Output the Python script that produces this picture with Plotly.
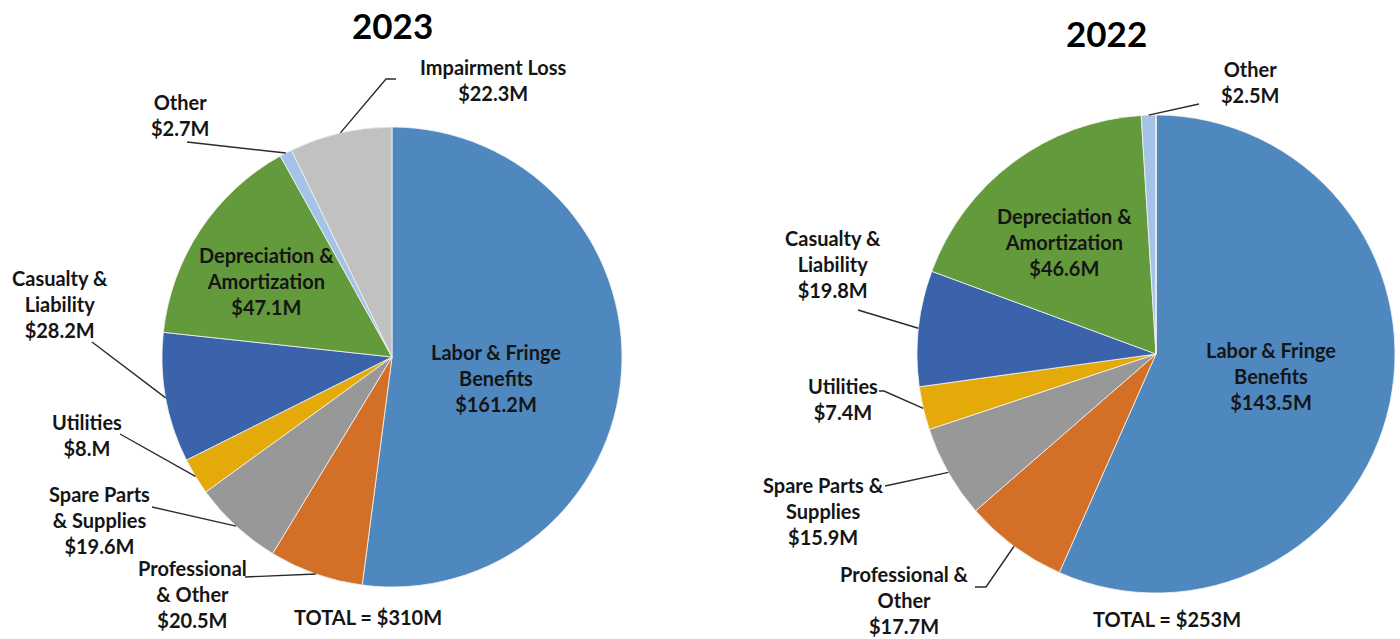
import math
import plotly.graph_objects as go

W, H = 1400, 639

# ---- data ----
categories = ["Labor & Fringe Benefits", "Professional & Other", "Spare Parts & Supplies",
              "Utilities", "Casualty & Liability", "Depreciation & Amortization",
              "Other", "Impairment Loss"]
values_2023 = [161.2, 20.5, 19.6, 8.0, 28.2, 47.1, 2.7, 22.3]
values_2022 = [143.5, 17.7, 15.9, 7.4, 19.8, 46.6, 2.5, 0.0]
labels_2023 = ["Labor & Fringe<br>Benefits<br>$161.2M", "Professional<br>& Other<br>$20.5M",
               "Spare Parts<br>& Supplies<br>$19.6M", "Utilities<br>$8.M",
               "Casualty &<br>Liability<br>$28.2M", "Depreciation &<br>Amortization<br>$47.1M",
               "Other<br>$2.7M", "Impairment Loss<br>$22.3M"]
labels_2022 = ["Labor & Fringe<br>Benefits<br>$143.5M", "Professional &<br>Other<br>$17.7M",
               "Spare Parts &<br>Supplies<br>$15.9M", "Utilities<br>$7.4M",
               "Casualty &<br>Liability<br>$19.8M", "Depreciation &<br>Amortization<br>$46.6M",
               "Other<br>$2.5M", None]
totals = {"2023": "TOTAL = $310M", "2022": "TOTAL = $253M"}

colors = ["#4F88BE", "#D46F28", "#989898", "#E3AA0A", "#3B63AC", "#639A3C", "#A5C3E6", "#C1C1C1"]

# ---- layout (pixel) ----
pies = {
    "2023": dict(cx=392, cy=357, r=230, vals=values_2023, labs=labels_2023,
                 title=(392, 25), total=(368, 617),
                 lab_pos=[(496, 378), (192, 594), (99, 520), (87, 435), (60, 304), (266, 281), (180, 115), (493, 80)],
                 leader=[None, [(245, 577)], [(152, 507)], [(120, 434)], [(92, 342)], None, [(187, 142)], [(396, 79), (386, 79)]]),
    "2022": dict(cx=1156, cy=354, r=239, vals=values_2022, labs=labels_2022,
                 title=(1106, 33), total=(1167, 619),
                 lab_pos=[(1271, 376), (904, 600), (823, 511), (843, 399), (833, 264), (1064, 242), (1250, 82), None],
                 leader=[None, [(975, 587), (986, 587)], [(885, 486)], [(879, 391), (884, 391)], [(858, 310)], None, [(1199, 104)], None]),
}

FONT = "Lato, 'Open Sans', sans-serif"
TXT = "#151515"

def px(x):
    return x / W

def py(y):
    return 1 - y / H

fig = go.Figure()
annotations = []
shapes = []

for year, p in pies.items():
    cx, cy, r = p["cx"], p["cy"], p["r"]
    vals = p["vals"]
    fig.add_trace(go.Pie(
        labels=categories, values=vals, sort=False, direction="clockwise", rotation=0,
        marker=dict(colors=colors, line=dict(color="#F4F4F4", width=0.8)),
        textinfo="none", hoverinfo="label+value", showlegend=False,
        domain=dict(x=[px(cx - r), px(cx + r)], y=[py(cy + r), py(cy - r)]),
    ))
    total = sum(vals)
    cum = 0.0
    for i, v in enumerate(vals):
        mid = (cum + v / 2) / total * 2 * math.pi
        cum += v
        if p["labs"][i] is None or v == 0:
            continue
        lx, ly = p["lab_pos"][i]
        annotations.append(dict(x=px(lx), y=py(ly), xref="paper", yref="paper",
                                text="<b>%s</b>" % p["labs"][i], showarrow=False,
                                xanchor="center", yanchor="middle",
                                font=dict(family=FONT, size=20, color=TXT)))
        if p["leader"][i]:
            rimx = cx + r * math.sin(mid)
            rimy = cy - r * math.cos(mid)
            pts = p["leader"][i] + [(rimx, rimy)]
            path = "M " + " L ".join("%.5f %.5f" % (px(a), py(b)) for a, b in pts)
            shapes.append(dict(type="path", path=path, xref="paper", yref="paper",
                               line=dict(color="#2B2B2B", width=1.4)))
    tx, ty = p["title"]
    annotations.append(dict(x=px(tx), y=py(ty), xref="paper", yref="paper", text="<b>%s</b>" % year,
                            showarrow=False, xanchor="center", yanchor="middle",
                            font=dict(family=FONT, size=35, color="#000000")))
    ox, oy = p["total"]
    annotations.append(dict(x=px(ox), y=py(oy), xref="paper", yref="paper", text="<b>%s</b>" % totals[year],
                            showarrow=False, xanchor="center", yanchor="middle",
                            font=dict(family=FONT, size=20, color=TXT)))

fig.update_layout(width=W, height=H, margin=dict(l=0, r=0, t=0, b=0),
                  paper_bgcolor="white", plot_bgcolor="white",
                  annotations=annotations, shapes=shapes)
fig.write_html("out.html", config={"displayModeBar": False},
               post_script="document.body.style.margin='0';document.body.style.overflow='hidden';")
